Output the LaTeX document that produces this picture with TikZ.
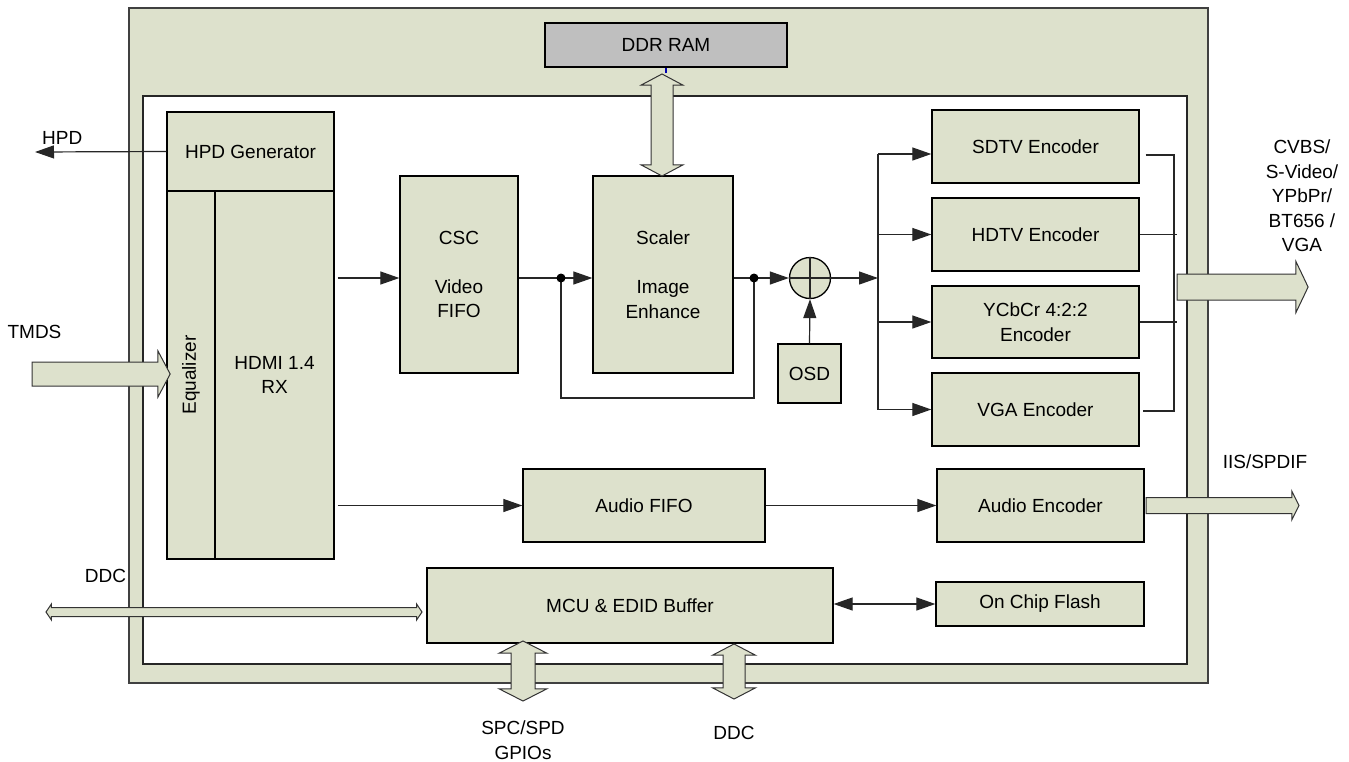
\documentclass[tikz,border=0pt]{standalone}
\usepackage{fontspec}
\setmainfont{Liberation Sans}
\usetikzlibrary{arrows.meta,shapes.arrows}
\definecolor{boxgreen}{RGB}{221,225,204}
\definecolor{ramgray}{RGB}{191,191,191}
\begin{document}
\begin{tikzpicture}[x=1pt,y=-1pt,
  every node/.style={font=\fontsize{19}{24.5}\selectfont, inner sep=0pt},
  blk/.style={draw=black, fill=boxgreen, line width=1.3pt, align=center},
  wire/.style={draw=black!85, line width=1.2pt},
  arr/.style={wire, -{Triangle[length=19pt,width=13pt]}},
  arrr/.style={wire, {Triangle[length=19pt,width=13pt]}-{Triangle[length=19pt,width=13pt]}},
  fat/.style={single arrow, draw=black!80, fill=boxgreen, line width=1pt, inner xsep=0pt, single arrow head indent=0pt},
  fatt/.style={double arrow, draw=black!80, fill=boxgreen, line width=1pt, inner xsep=0pt, double arrow head indent=0pt},
  jdot/.style={circle, fill=black, minimum size=9pt}]
\useasboundingbox (0,0) rectangle (1349,761);
\draw[draw=black!75, fill=boxgreen, line width=1.3pt] (129,8) rectangle (1208,683);
\draw[draw=black!85, fill=white, line width=1.3pt] (143,96) rectangle (1187,664);
\node[blk, fill=ramgray, minimum width=242pt, minimum height=44pt] (ddr) at (666,45) {DDR RAM};
\node[blk, minimum width=167pt, minimum height=79pt] (hpdgen) at (250.5,151.5) {HPD Generator};
\node[blk, rotate=90, minimum width=368pt, minimum height=48pt] (eq) at (191,375) {Equalizer};
\node[blk, minimum width=119pt, minimum height=368pt] (hdmi) at (274.5,375) {HDMI 1.4\\RX};
\node[blk, minimum width=118pt, minimum height=197pt] (csc) at (459,274.5) {CSC\\[24.5pt]Video\\FIFO};
\node[blk, minimum width=140pt, minimum height=197pt] (scaler) at (663,274.5) {Scaler\\[24.5pt]Image\\Enhance};
\node[blk, circle, minimum size=41pt] (sum) at (810,278) {};
\draw[wire] (sum.north) -- (sum.south) (sum.west) -- (sum.east);
\node[blk, minimum width=63pt, minimum height=59pt] (osd) at (809.5,373.5) {OSD};
\node[blk, minimum width=207pt, minimum height=73pt] (sdtv) at (1035.5,146.5) {SDTV Encoder};
\node[blk, minimum width=207pt, minimum height=73pt] (hdtv) at (1035.5,234.5) {HDTV Encoder};
\node[blk, minimum width=207pt, minimum height=72pt] (ycc) at (1035.5,322) {YCbCr 4:2:2\\Encoder};
\node[blk, minimum width=207pt, minimum height=73pt] (vga) at (1035.5,409.5) {VGA Encoder};
\node[blk, minimum width=242pt, minimum height=73pt] (afifo) at (644,505.5) {Audio FIFO};
\node[blk, minimum width=207pt, minimum height=73pt] (aenc) at (1040.5,505.5) {Audio Encoder};
\node[blk, minimum width=406pt, minimum height=75pt] (mcu) at (630,605.5) {MCU \& EDID Buffer};
\node[blk, minimum width=208pt, minimum height=44pt] (flash) at (1040,604) {On Chip Flash};
\coordinate (hpdout) at (35,152);
\draw[arr] (hpdgen.west) -- (hpdout);
\coordinate (ja) at (561,278);
\coordinate (jb) at (754,278);
\draw[arr] ([xshift=3pt]hdmi.east |- ja) -- (csc.west |- ja);
\draw[wire] (csc.east |- ja) -- (ja);
\draw[arr] (ja) -- (scaler.west |- ja);
\draw[wire] (scaler.east |- jb) -- (jb);
\draw[arr] (jb) -- (sum.west);
\draw[wire] (ja) -- (561,398) -| (jb);
\node[jdot] (dota) at (ja) {};
\node[jdot] (dotb) at (jb) {};
\draw[arr] (osd.north) -- (sum.south);
\coordinate (bus) at (878,278);
\coordinate (bustop) at (878,154);
\draw[arr] (sum.east) -- (bus);
\draw[wire] (bustop) -- (bus |- vga);
\draw[arr] (bustop) -- (bustop -| sdtv.west);
\draw[arr] (bus |- hdtv) -- (hdtv.west);
\draw[arr] (bus |- ycc) -- (ycc.west);
\draw[arr] (bus |- vga) -- (vga.west);
\coordinate (coltop) at (1174,155);
\coordinate (colbot) at (1174,411);
\draw[wire] ([xshift=6pt]sdtv.east |- coltop) -- (coltop) -- (colbot) -- ([xshift=3pt]vga.east |- colbot);
\draw[wire] (hdtv.east) -- ++(37,0);
\draw[wire] (ycc.east) -- ++(37,0);
\draw[arr] ([xshift=3pt]hdmi.east |- afifo) -- (afifo.west);
\draw[arr] (afifo.east) -- (aenc.west);
\draw[arrr] (mcu.east |- flash) -- (flash.west);
\node[fat, minimum height=138pt, minimum width=45pt, inner ysep=11.5pt, single arrow head extend=11pt, single arrow tip angle=124] (tmds) at (98,374) {};
\node[fat, minimum height=131pt, minimum width=50pt, inner ysep=12.5pt, single arrow head extend=12.5pt, single arrow tip angle=129] (vout) at (1239.5,287) {};
\node[fat, minimum height=153pt, minimum width=28pt, inner ysep=7.5pt, single arrow head extend=6.5pt, single arrow tip angle=127] (aout) at (1220.5,505.5) {};
\node[fatt, rotate=90, minimum height=102pt, minimum width=41pt, inner ysep=10.5pt, double arrow head extend=10pt, double arrow tip angle=124] (ddrbus) at (662,125) {};
\node[fatt, rotate=90, minimum height=60pt, minimum width=47pt, inner ysep=11.5pt, double arrow head extend=12pt, double arrow tip angle=126] (gpiobus) at (523,671) {};
\node[fatt, rotate=90, minimum height=55pt, minimum width=42pt, inner ysep=10.5pt, double arrow head extend=10.5pt, double arrow tip angle=125] (ddcbus) at (734,671.5) {};
\node[fatt, minimum height=376pt, minimum width=15pt, inner ysep=4pt, double arrow head extend=3.5pt, double arrow tip angle=112] (ddcin) at (234,612) {};
\draw[draw=blue!70!black, line width=1.2pt] (ddr.south) -- (ddr.south |- ddrbus.east);
\node[anchor=west] (hpdlbl) at (42,138) {HPD};
\node (tmdslbl) at (34.5,332) {TMDS};
\node (ddclbl) at (105.5,576) {DDC};
\node[align=center] (voutlbl) at (1302,196) {CVBS/\\S-Video/\\YPbPr/\\BT656 /\\VGA};
\node (aoutlbl) at (1265,462) {IIS/SPDIF};
\node[align=center] (gpiolbl) at (523,740) {SPC/SPD\\GPIOs};
\node (ddcoutlbl) at (734,733) {DDC};
\end{tikzpicture}
\end{document}
